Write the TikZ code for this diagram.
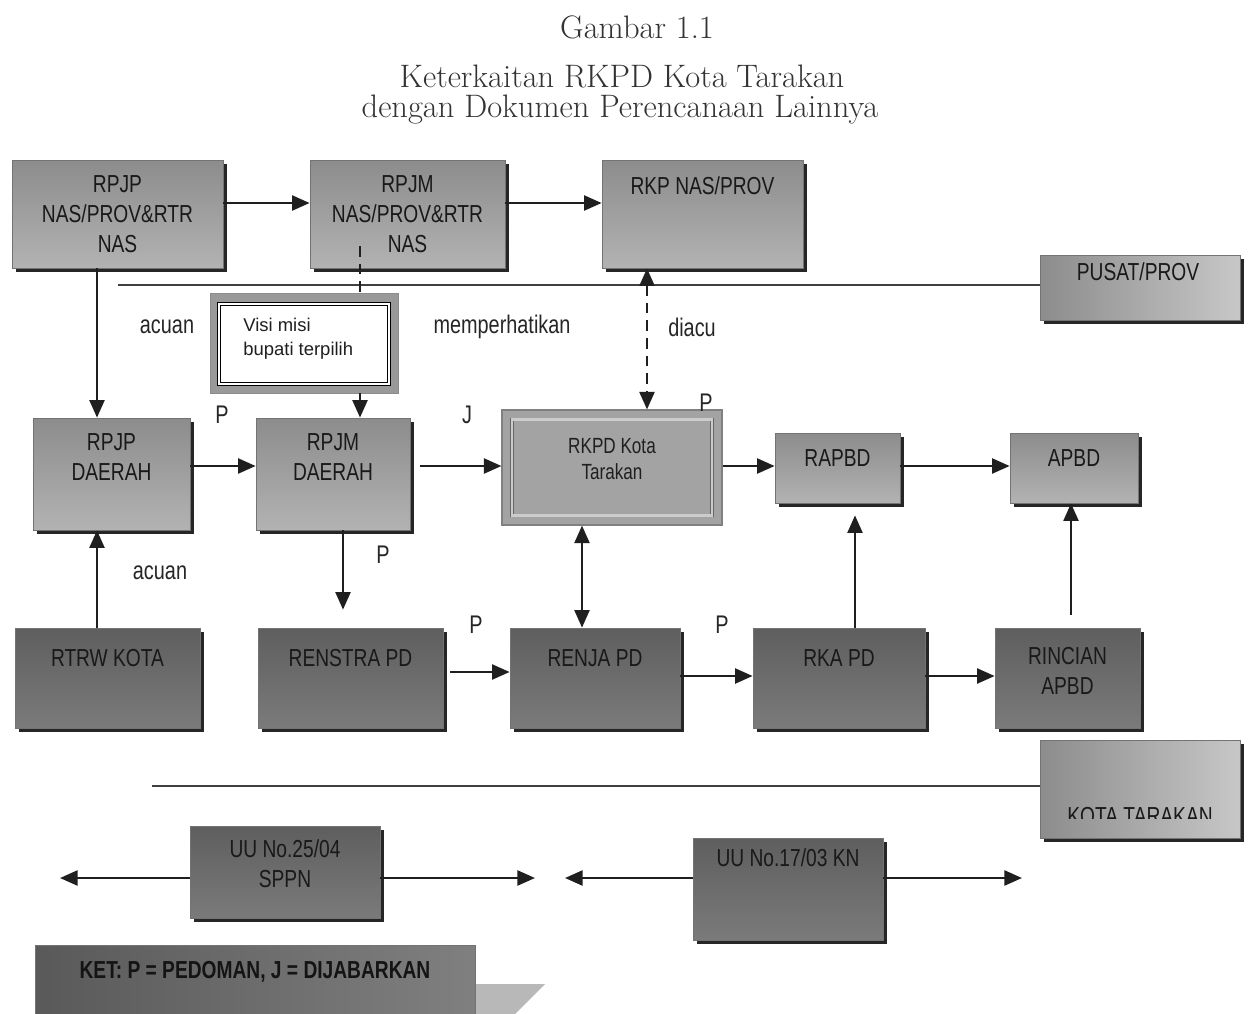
\documentclass[tikz,border=0pt]{standalone}
\usepackage{fontspec}
\newfontfamily\nar[FakeStretch=0.78]{Liberation Sans}
\newfontfamily\arl{Liberation Sans}
\usetikzlibrary{arrows.meta,shadows,calc}
\begin{document}
\begin{tikzpicture}[x=0.02cm,y=-0.02cm,
  sz/.style 2 args={minimum width=#1*0.02cm, minimum height=#2*0.02cm},
  box/.style={draw=black!55, line width=0.4pt, inner sep=0pt,
    drop shadow={shadow xshift=2.2pt, shadow yshift=-2.2pt, fill=black!85, opacity=1}},
  topbox/.style={box, top color=black!45, bottom color=black!30},
  lowbox/.style={box, top color=black!63, bottom color=black!52},
  sidebox/.style={box, left color=black!45, right color=black!22},
  txt/.style={font=\nar\fontsize{14}{17}\selectfont, text=black!90, align=center, inner sep=0pt},
  lbl/.style={font=\nar\fontsize{14.5}{17}\selectfont, text=black!85, inner sep=0pt},
  ttl/.style={font=\fontsize{18.5}{21}\selectfont, text=black!80, inner sep=0pt},
  tip/.style={Triangle[length=10pt,width=8.5pt]},
  arr/.style={line width=1.4pt, draw=black!88, -{Triangle[length=10pt,width=8.5pt]}},
  darr/.style={line width=1.4pt, draw=black!88, {Triangle[length=10pt,width=8.5pt]}-{Triangle[length=10pt,width=8.5pt]}},
  rule/.style={line width=1.3pt, draw=black!75}
]
\useasboundingbox (0,0) rectangle (1251,1014);
\fill[white] (0,0) rectangle (1251,1014);

% titles
\node[ttl] (t1) at (637,27) {Gambar 1.1};
\node[ttl] (t2) at (622,76) {Keterkaitan RKPD Kota Tarakan};
\node[ttl] (t3) at (620,110) {dengan Dokumen Perencanaan Lainnya};

% top row
\node[topbox, sz={211}{108}] (rpjpn) at (117.5,214) {};
\node[txt] (rpjpn-t) at (117.5,214) {RPJP\\NAS/PROV\&RTR\\NAS};
\node[topbox, sz={195}{108}] (rpjmn) at (407.5,214) {};
\node[txt] (rpjmn-t) at (407.5,214) {RPJM\\NAS/PROV\&RTR\\NAS};
\node[topbox, sz={201}{108}] (rkpn) at (702.5,214) {};
\node[txt] (rkpn-t) at (702.5,186) {RKP NAS/PROV};

\node[sidebox, sz={200}{65}] (pusat) at (1140,287.5) {};
\node[txt] (pusat-t) at (1138,272) {PUSAT/PROV};

% visi misi
\node[draw=black!45, fill=black!40, sz={188}{100}, inner sep=0pt] (visi) at (304,343) {};
\node[draw=black, double=white, double distance=1.4pt, fill=white, sz={170}{80}, inner sep=0pt] (visiin) at (304,344) {};
\node[anchor=west, align=left, font=\arl\fontsize{10.5}{13.5}\selectfont, text=black!88, inner sep=0pt] (visi-t) at (243,339) {Visi misi\\bupati terpilih};

% middle row
\node[topbox, sz={157}{112}] (rpjpd) at (111.5,474) {};
\node[txt] (rpjpd-t) at (111.5,457) {RPJP\\DAERAH};
\node[topbox, sz={154}{112}] (rpjmd) at (333,474) {};
\node[txt] (rpjmd-t) at (333,457) {RPJM\\DAERAH};
\node[draw=black!50, line width=0.6pt, fill=black!36, inner sep=0pt, sz={220}{115}] (rkpd) at (612,467.5) {};
\node[draw=black!60, double=black!20, double distance=1.2pt, inner sep=0pt, sz={200}{96}] (rkpdin) at (612,467.5) {};
\node[font=\nar\fontsize{12.5}{15}\selectfont, text=black!88, align=center, inner sep=0pt] (rkpd-t) at (612,459) {RKPD Kota\\Tarakan};
\node[topbox, sz={125}{70}] (rapbd) at (837.5,468) {};
\node[txt] (rapbd-t) at (837.5,458) {RAPBD};
\node[topbox, sz={128}{70}] (apbd) at (1074,468) {};
\node[txt] (apbd-t) at (1074,458) {APBD};

% bottom row
\node[lowbox, sz={185}{100}] (rtrw) at (107.5,678) {};
\node[txt] (rtrw-t) at (107.5,658) {RTRW KOTA};
\node[lowbox, sz={185}{100}] (renstra) at (350.5,678) {};
\node[txt] (renstra-t) at (350.5,658) {RENSTRA PD};
\node[lowbox, sz={170}{100}] (renja) at (595,678) {};
\node[txt] (renja-t) at (595,658) {RENJA PD};
\node[lowbox, sz={172}{100}] (rka) at (839,678) {};
\node[txt] (rka-t) at (839,658) {RKA PD};
\node[lowbox, sz={145}{100}] (rincian) at (1067.5,678) {};
\node[txt] (rincian-t) at (1067.5,671) {RINCIAN\\APBD};

% kota tarakan
\node[sidebox, sz={200}{98}] (kota) at (1140,789) {};
\begin{scope}
\clip (1040,740) rectangle (1240,818);
\node[txt] (kota-t) at (1140,816) {KOTA TARAKAN};
\end{scope}

% UU boxes
\node[lowbox, sz={190}{92}] (uu25) at (285,872) {};
\node[txt] (uu25-t) at (285,864) {UU No.25/04\\SPPN};
\node[lowbox, sz={190}{102}] (uu17) at (788,889) {};
\node[txt] (uu17-t) at (788,858) {UU No.17/03 KN};

% KET
\fill[black!28] (475,984) -- (545,984) -- (515,1014) -- (475,1014) -- cycle;
\node[draw=black!55, left color=black!65, right color=black!50, inner sep=0pt, sz={440}{69}] (ket) at (255,979.5) {};
\node[font=\nar\bfseries\fontsize{14}{17}\selectfont, text=black!92, inner sep=0pt] (ket-t) at (255,972) {KET: P = PEDOMAN, J = DIJABARKAN};

% labels
\node[lbl] (l-acuan1) at (167,327) {acuan};
\node[lbl] (l-memp) at (502,327) {memperhatikan};
\node[lbl] (l-diacu) at (692,327) {diacu};
\node[lbl] (l-p1) at (222,415) {P};
\node[lbl] (l-j) at (467,415) {J};
\node[lbl] (l-p2) at (706,403) {P};
\node[lbl] (l-acuan2) at (160,573) {acuan};
\node[lbl] (l-p3) at (383,555) {P};
\node[lbl] (l-p4) at (476,625) {P};
\node[lbl] (l-p5) at (722,625) {P};

% rules
\coordinate (pl) at (118,285);
\draw[rule] (pl) -- (pl -| pusat.west);
\coordinate (kl) at (152,786);
\draw[rule] (kl) -- (kl -| kota.west);

% connectors
\draw[arr] (rpjpn.east |- 0,203) -- (rpjmn.west |- 0,203);
\draw[arr] (rpjmn.east |- 0,203) -- (rkpn.west |- 0,203);
\draw[arr] (97,0 |- rpjpn.south) -- (97,0 |- rpjpd.north);
\draw[line width=1.4pt, draw=black!88, dash pattern=on 6pt off 4pt] ($(360,0 |- rpjmn.south)+(0,-22)$) -- (360,0 |- visi.north);
\draw[arr] (360,0 |- visi.south) -- (360,0 |- rpjmd.north);
\draw[darr, dash pattern=on 6pt off 4pt] (647,0 |- rkpn.south) -- (647,0 |- rkpd.north);
\draw[arr] (rpjpd.east |- 0,466) -- (rpjmd.west |- 0,466);
\draw[arr] ($(rpjmd.east |- 0,466)+(10,0)$) -- (rkpd.west |- 0,466);
\draw[arr] (rkpd.east |- 0,466) -- (rapbd.west |- 0,466);
\draw[arr] (rapbd.east |- 0,466) -- (apbd.west |- 0,466);
\draw[arr] (97,0 |- rtrw.north) -- (97,0 |- rpjpd.south);
\draw[arr] (343,0 |- rpjmd.south) -- ($(343,0 |- renstra.north)+(0,-18)$);
\draw[arr] ($(renstra.east |- 0,672)+(7,0)$) -- (renja.west |- 0,672);
\draw[darr] (582,0 |- rkpd.south) -- (582,0 |- renja.north);
\draw[arr] (renja.east |- 0,676) -- (rka.west |- 0,676);
\draw[arr] (855,0 |- rka.north) -- ($(855,0 |- rapbd.south)+(0,12)$);
\draw[arr] (rka.east |- 0,676) -- (rincian.west |- 0,676);
\draw[arr] ($(1071,0 |- rincian.north)+(0,-13)$) -- (1071,0 |- apbd.south);

\coordinate (u1l) at (60,878);
\coordinate (u1r) at (535,878);
\coordinate (u2l) at (565,878);
\coordinate (u2r) at (1022,878);
\draw[arr] (uu25.west |- u1l) -- (u1l);
\draw[arr] (uu25.east |- u1r) -- (u1r);
\draw[arr] (uu17.west |- u2l) -- (u2l);
\draw[arr] (uu17.east |- u2r) -- (u2r);
\end{tikzpicture}
\end{document}
